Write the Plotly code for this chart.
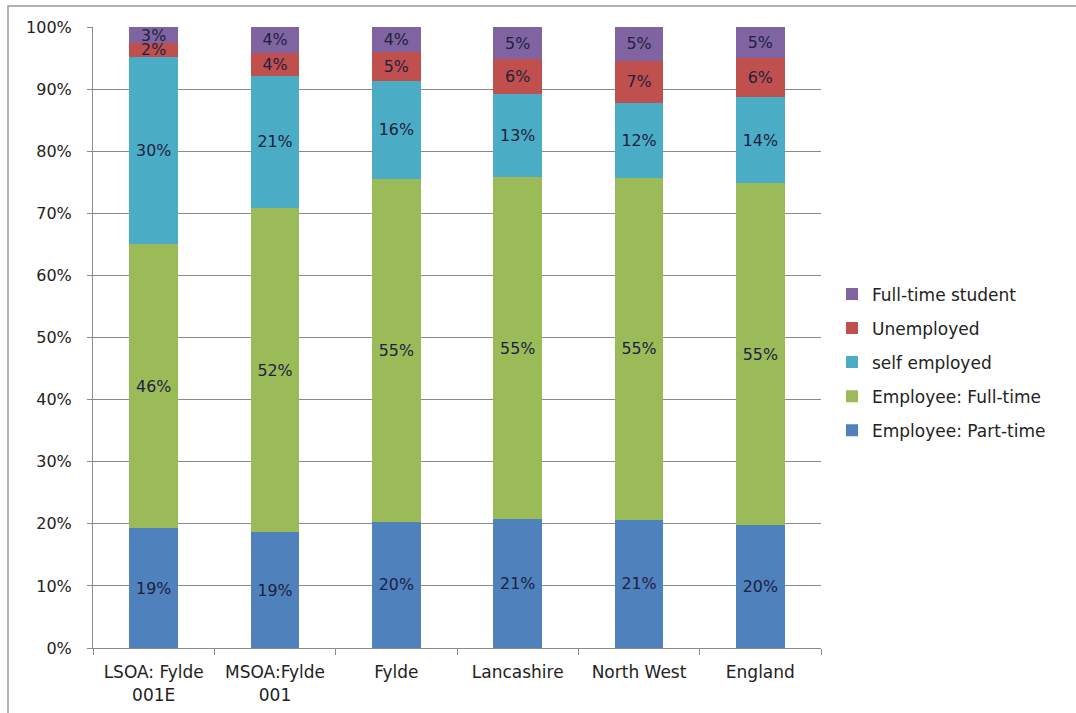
import plotly.graph_objects as go

# Economic activity shares (%) by area
areas = ["LSOA: Fylde<br>001E", "MSOA:Fylde<br>001", "Fylde", "Lancashire", "North West", "England"]
part_time = [19.3, 18.6, 20.3, 20.7, 20.6, 19.8]
full_time = [45.7, 52.3, 55.3, 55.2, 55.1, 55.0]
self_employed = [30.2, 21.2, 15.7, 13.3, 12.1, 13.9]
unemployed = [2.2, 3.7, 4.7, 5.6, 6.8, 6.3]
student = [2.6, 4.2, 4.0, 5.2, 5.4, 5.0]
y_ticks = [0, 10, 20, 30, 40, 50, 60, 70, 80, 90, 100]

series = [
    ("Employee: Part-time", part_time, "#4F81BD"),
    ("Employee: Full-time", full_time, "#9BBB59"),
    ("self employed", self_employed, "#4BACC6"),
    ("Unemployed", unemployed, "#C0504D"),
    ("Full-time student", student, "#8064A2"),
]

FONT = "DejaVu Sans, Verdana, sans-serif"

fig = go.Figure()
for i, (name, vals, color) in enumerate(series):
    fig.add_trace(go.Bar(
        x=areas, y=vals, name=name,
        marker=dict(color=color, line=dict(width=0)),
        texttemplate="%{y:.0f}%",
        textposition="inside",
        insidetextanchor="middle",
        textangle=0,
        textfont=dict(family=FONT, size=16, color="#1e2040"),
        legendgroup=f"g{i}",
        legendrank=len(series) - i,
        hoverinfo="skip",
    ))

L, R, T, B = 93, 255, 27, 65
W, H = 1076, 713
pw, ph = W - L - R, H - T - B

fig.update_layout(
    width=W, height=H,
    barmode="stack",
    bargap=0.6,
    margin=dict(l=L, r=R, t=T, b=B, autoexpand=False),
    paper_bgcolor="white",
    plot_bgcolor="white",
    font=dict(family=FONT, size=16, color="#222222"),
    uniformtext=dict(mode="show", minsize=15),
    showlegend=True,
    legend=dict(
        x=(832 - L) / pw, xanchor="left",
        y=0.46, yanchor="middle",
        traceorder="grouped",
        tracegroupgap=9,
        font=dict(family=FONT, size=17, color="#222222"),
        itemwidth=30,
        bgcolor="rgba(0,0,0,0)",
    ),
    xaxis=dict(
        range=[-0.5, 5.5],
        automargin=False,
        showline=True, linecolor="#8a8a8a", linewidth=1,
        ticks="outside", tickson="boundaries", ticklen=6, tickcolor="#8a8a8a",
        ticklabelstandoff=9,
        showgrid=False,
        tickfont=dict(family=FONT, size=17, color="#222222"),
    ),
    yaxis=dict(
        range=[0, 100],
        automargin=False,
        tickvals=y_ticks,
        ticktext=[f"{v}%" for v in y_ticks],
        showline=True, linecolor="#8a8a8a", linewidth=1,
        ticks="outside", ticklen=5, tickcolor="#8a8a8a",
        ticklabelstandoff=12,
        showgrid=True, gridcolor="#8a8a8a", gridwidth=1,
        zeroline=False,
        tickfont=dict(family=FONT, size=16, color="#222222"),
    ),
)

# Outer chart frame (top and left edges visible)
fig.add_shape(
    type="rect", xref="paper", yref="paper",
    x0=(8 - L) / pw, x1=(W + 20 - L) / pw,
    y0=-(H + 20 - T - ph) / ph, y1=1 + (T - 6) / ph,
    line=dict(color="#9a9a9a", width=1.5), fillcolor="rgba(0,0,0,0)",
)

fig.write_html("out.html")
